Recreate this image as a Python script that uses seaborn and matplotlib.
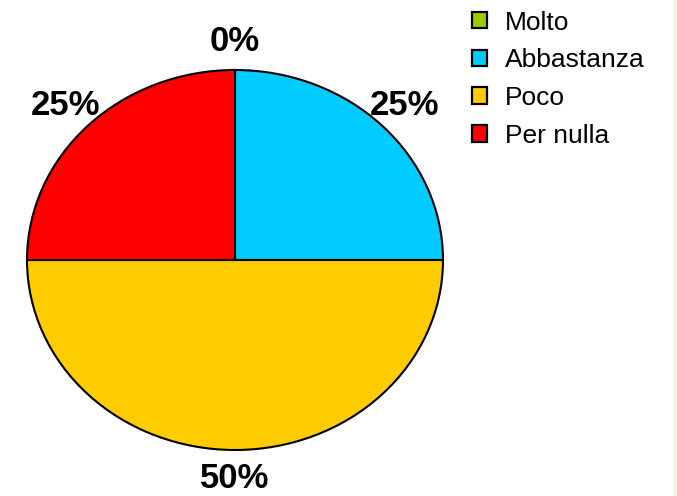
import matplotlib.pyplot as plt
import matplotlib.patches as mpatches
import seaborn as sns

categorie = ['Molto', 'Abbastanza', 'Poco', 'Per nulla']
valori = [0, 25, 50, 25]
colori = ['#99CC00', '#00CCFF', '#FFCC00', '#FF0000']

sns.set_style('white')
plt.rcParams['font.family'] = ['Liberation Sans', 'DejaVu Sans']
plt.rcParams['text.color'] = 'black'

fig = plt.figure(figsize=(6.77, 4.96), dpi=100)
fig.patch.set_facecolor('white')
fig.patches.append(mpatches.Rectangle((673 / 677, 0), 4 / 677, 1, transform=fig.transFigure,
                                      facecolor='#F3F9DC', edgecolor='none', zorder=0))

ax = fig.add_axes([27 / 677, 46 / 496, 416 / 677, 380 / 496])
wedges, testi, pct = ax.pie(valori, colors=colori, startangle=90, counterclock=False,
                            autopct='%1.0f%%', pctdistance=1.15,
                            wedgeprops=dict(edgecolor='black', linewidth=1.5))
for t in pct:
    t.set_fontsize(25)
    t.set_fontweight('bold')
    t.set_color('black')
    t.set_clip_on(False)
ax.set_aspect('auto')
ax.set_xlim(-1, 1)
ax.set_ylim(-1, 1)

handles = [mpatches.Patch(facecolor=c, edgecolor='black', linewidth=1.6) for c in colori]
leg = fig.legend(handles, categorie, loc='upper left', bbox_to_anchor=(461 / 677, 1),
                 frameon=False, fontsize=19, handlelength=0.58, handleheight=0.58,
                 handletextpad=0.7, labelspacing=0.52, borderaxespad=0)
for t in leg.get_texts():
    t.set_color('black')

fig.savefig('out.png', dpi=100)
